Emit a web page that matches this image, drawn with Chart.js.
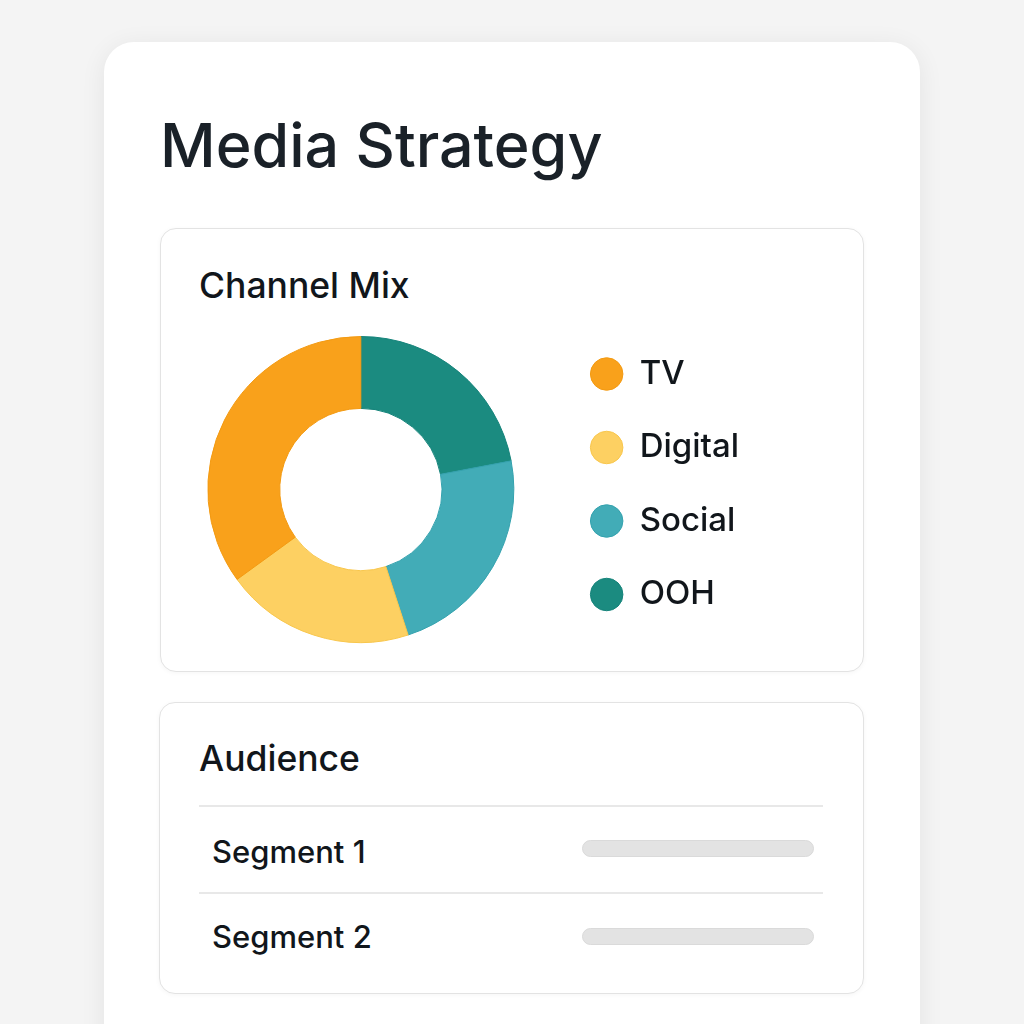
<!DOCTYPE html>
<html lang="en">
<head>
<meta charset="UTF-8">
<title>Media Strategy</title>
<script src="https://cdn.jsdelivr.net/npm/chart.js"></script>
<style>
  body { margin: 0; background: #f4f4f4; font-family: Inter, "Noto Sans", sans-serif; color: #11161b; }
  .page { position: relative; width: 1024px; height: 1024px; overflow: hidden; }
  .sheet { position: absolute; left: 104px; top: 42px; width: 816px; height: 1060px; background: #fff;
           border-radius: 30px; box-shadow: 0 4px 26px rgba(0,0,0,0.07); }
  .card { position: absolute; box-sizing: border-box; background: #fff; border: 1px solid #e3e3e3;
          border-radius: 16px; box-shadow: 0 1px 5px rgba(0,0,0,0.04); }
  .txt { position: absolute; margin: 0; line-height: 1; white-space: nowrap; font-weight: 500; }
  h1.txt { left: 160px; top: 115px; font-size: 61px; color: #1a2128; }
  .head { font-size: 35.5px; left: 199px; }
  .seg { font-size: 31px; left: 212px; font-weight: 450; }
  .rule { position: absolute; left: 199px; width: 624px; height: 2px; background: #e8e8e8; }
  .bar { position: absolute; left: 582px; width: 232px; height: 17px; box-sizing: border-box;
         background: #e3e3e3; border: 1px solid #dadada; border-radius: 9px; }
  .chart-box { position: absolute; left: 172px; top: 317px; width: 577px; height: 345px; }
</style>
</head>
<body>
<div class="page">
  <div class="sheet"></div>
  <h1 class="txt">Media Strategy</h1>

  <div class="card" style="left:160px; top:228px; width:704px; height:444px;"></div>
  <div class="txt head" style="top:268px;">Channel Mix</div>
  <div class="chart-box"><canvas id="mixChart"></canvas></div>

  <div class="card" style="left:159px; top:702px; width:705px; height:292px;"></div>
  <div class="txt head" style="top:741px;">Audience</div>
  <div class="rule" style="top:805px;"></div>
  <div class="txt seg" style="top:836px;">Segment 1</div>
  <div class="bar" style="top:840px;"></div>
  <div class="rule" style="top:892px;"></div>
  <div class="txt seg" style="top:921px;">Segment 2</div>
  <div class="bar" style="top:928px;"></div>
</div>

<script>
// drawn clockwise from the top, so listed OOH first; legend is reversed
const channels = ['OOH', 'Social', 'Digital', 'TV'];
const shares = [22, 23, 20, 35];
const fills = ['#1b8b80', '#42acb7', '#fdd062', '#f9a11b'];
const edges = ['#15837a', '#34a2ae', '#f8c64c', '#f39a12'];

new Chart(document.getElementById('mixChart'), {
    type: 'doughnut',
    data: {
        labels: channels,
        datasets: [{
            data: shares,
            backgroundColor: fills,
            borderColor: edges,
            borderWidth: 1,
            hoverOffset: 0
        }]
    },
    options: {
        responsive: true,
        maintainAspectRatio: false,
        animation: false,
        radius: 153,
        cutout: '53%',
        layout: { padding: 0 },
        plugins: {
            tooltip: { enabled: false },
            legend: {
                position: 'right',
                align: 'start',
                reverse: true,
                labels: {
                    usePointStyle: true,
                    pointStyle: 'circle',
                    boxHeight: 23,
                    padding: 40.5,
                    color: '#11161b',
                    font: { family: 'Inter', size: 33, weight: '500' }
                }
            }
        }
    }
});
</script>
</body>
</html>
